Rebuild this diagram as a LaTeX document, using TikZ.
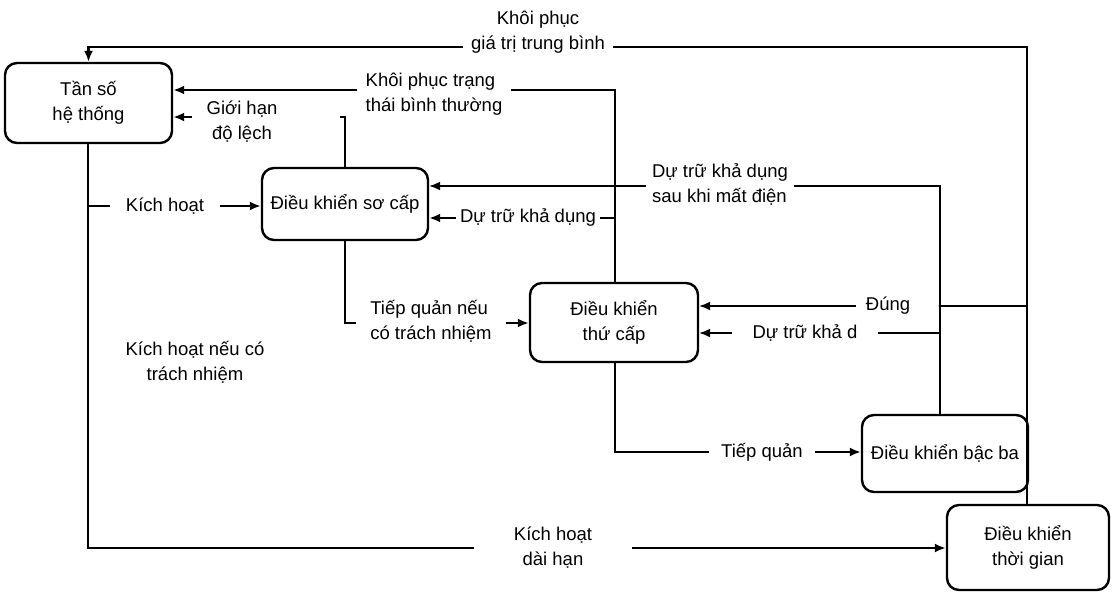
\documentclass[tikz,border=0pt]{standalone}
\usepackage{fontspec}
\setmainfont{Liberation Sans}
\usetikzlibrary{arrows.meta}
\begin{document}
\begin{tikzpicture}[x=1pt,y=-1pt,
  font=\fontsize{18.5}{25}\selectfont,
  box/.style={draw, line width=2.4pt, rounded corners=12pt, align=center, inner sep=0pt},
  lbl/.style={align=center, inner xsep=8pt, inner ysep=1pt},
  lbll/.style={align=left, inner xsep=8pt, inner ysep=1pt},
  conn/.style={line width=2.4pt},
  lconn/.style={line width=1.6pt},
  arr/.style={conn, -{Latex[length=11pt,width=9pt]}},
  larr/.style={lconn, -{Latex[length=11pt,width=9pt]}}]
\useasboundingbox (0,0) rectangle (1116,595);

% boxes
\node[box, minimum width=167pt, minimum height=80pt] (ts) at (88.5,103) {Tần số\\hệ thống};
\node[box, minimum width=166pt, minimum height=72pt] (sc) at (345,204) {Điều khiển sơ cấp};
\node[box, minimum width=168pt, minimum height=79pt] (tc) at (614,322.5) {Điều khiển\\thứ cấp};
\node[box, minimum width=166pt, minimum height=77pt] (bb) at (945,453.5) {Điều khiển bậc ba};
\node[box, minimum width=162pt, minimum height=85pt] (tg) at (1028,547.5) {Điều khiển\\thời gian};

% labels
\node[lbl] (kpgt) at (538,32.5) {Khôi phục\\giá trị trung bình};
\node[lbll] (kptt) at (434,94) {Khôi phục trạng\\thái bình thường};
\node[lbl, inner xsep=14pt] (ghdl) at (242,122) {Giới hạn\\độ lệch};
\node[lbl, inner xsep=16pt] (kh) at (165,206) {Kích hoạt};
\node[lbl] (khnct) at (195,362) {Kích hoạt nếu có\\trách nhiệm};
\node[lbll, inner xsep=14pt] (tqnct) at (431,321.5) {Tiếp quản nếu\\có trách nhiệm};
\node[lbl, inner xsep=4pt] (dtkd) at (528,218) {Dự trữ khả dụng};
\node[lbll, inner xsep=6pt] (dtkdsm) at (720,184.5) {Dự trữ khả dụng\\sau khi mất điện};
\node[lbl, inner xsep=10pt] (dung) at (888,306) {Đúng};
\node[lbl, inner xsep=20pt] (dtkdd) at (805,333) {Dự trữ khả d};
\node[lbl, inner xsep=12pt] (tq) at (762,452) {Tiếp quản};
\node[lbl, inner xsep=40pt] (khdh) at (553,547.5) {Kích hoạt\\dài hạn};

% corner coordinates
\coordinate (cTop) at (1027,47);
\coordinate (cKT) at (615,90);
\coordinate (cGH) at (345,117);
\coordinate (cKH) at (88,206);
\coordinate (cBL) at (88,548);
\coordinate (cSC) at (345,323);
\coordinate (cTC) at (615,452);
\coordinate (cBB) at (940,186);
\coordinate (cD1) at (1027,306);
\coordinate (cD2) at (940,306);
\coordinate (cR2) at (940,333);
\coordinate (cDK) at (615,218);

% top loop: thời gian -> tần số
\draw[conn] (tg.north -| cTop) -- (cTop) -- (kpgt.east |- cTop);
\draw[arr] (kpgt.west |- cTop) -| (ts.north);

% thứ cấp -> tần số (khôi phục trạng thái bình thường)
\draw[conn] (tc.north -| cKT) -- (cKT) -- (kptt.east |- cKT);
\draw[arr] (kptt.west |- cKT) -- (ts.east |- cKT);

% sơ cấp -> tần số (giới hạn độ lệch)
\draw[conn] (sc.north -| cGH) -- (cGH) -- ++(-5,0);
\draw[arr] (ghdl.west |- cGH) -- (ts.east |- cGH);

% tần số -> sơ cấp (kích hoạt)
\draw[conn] (cKH) -- (kh.west);
\draw[arr] (kh.east) -- (sc.west |- kh);

% tần số -> thời gian (kích hoạt dài hạn)
\draw[conn] (ts.south -| cBL) -- (cBL) -- (khdh.west |- cBL);
\draw[arr] (khdh.east |- cBL) -- (tg.west |- cBL);

% sơ cấp -> thứ cấp
\draw[conn] (sc.south) -- (cSC) -- (tqnct.west |- cSC);
\draw[arr] (tqnct.east |- cSC) -- (tc.west |- cSC);

% thứ cấp -> bậc ba
\draw[conn] (tc.south -| cTC) -- (cTC) -- (tq.west);
\draw[arr] (tq.east) -- (bb.west |- tq);

% dự trữ khả dụng (thứ cấp -> sơ cấp)
\draw[conn] (cDK) -- (dtkd.east);
\draw[arr] (dtkd.west) -- (sc.east |- dtkd);

% bậc ba -> sơ cấp (dự trữ khả dụng sau khi mất điện)
\draw[lconn] (bb.north -| cBB) -- (cBB) -- (dtkdsm.east |- cBB);
\draw[larr] (dtkdsm.west |- cBB) -- (sc.east |- cBB);
\fill (cKT |- cBB) circle (1.6pt);

% đúng (thời gian -> thứ cấp)
\draw[lconn] (cD1) -- (cD2);
\fill (cD2) circle (1.6pt);
\draw[larr] (dung.west) -- (tc.east |- dung);

% dự trữ khả d (bậc ba -> thứ cấp)
\draw[lconn] (cR2) -- (dtkdd.east);
\draw[larr] (dtkdd.west) -- (tc.east |- dtkdd);
\end{tikzpicture}
\end{document}
